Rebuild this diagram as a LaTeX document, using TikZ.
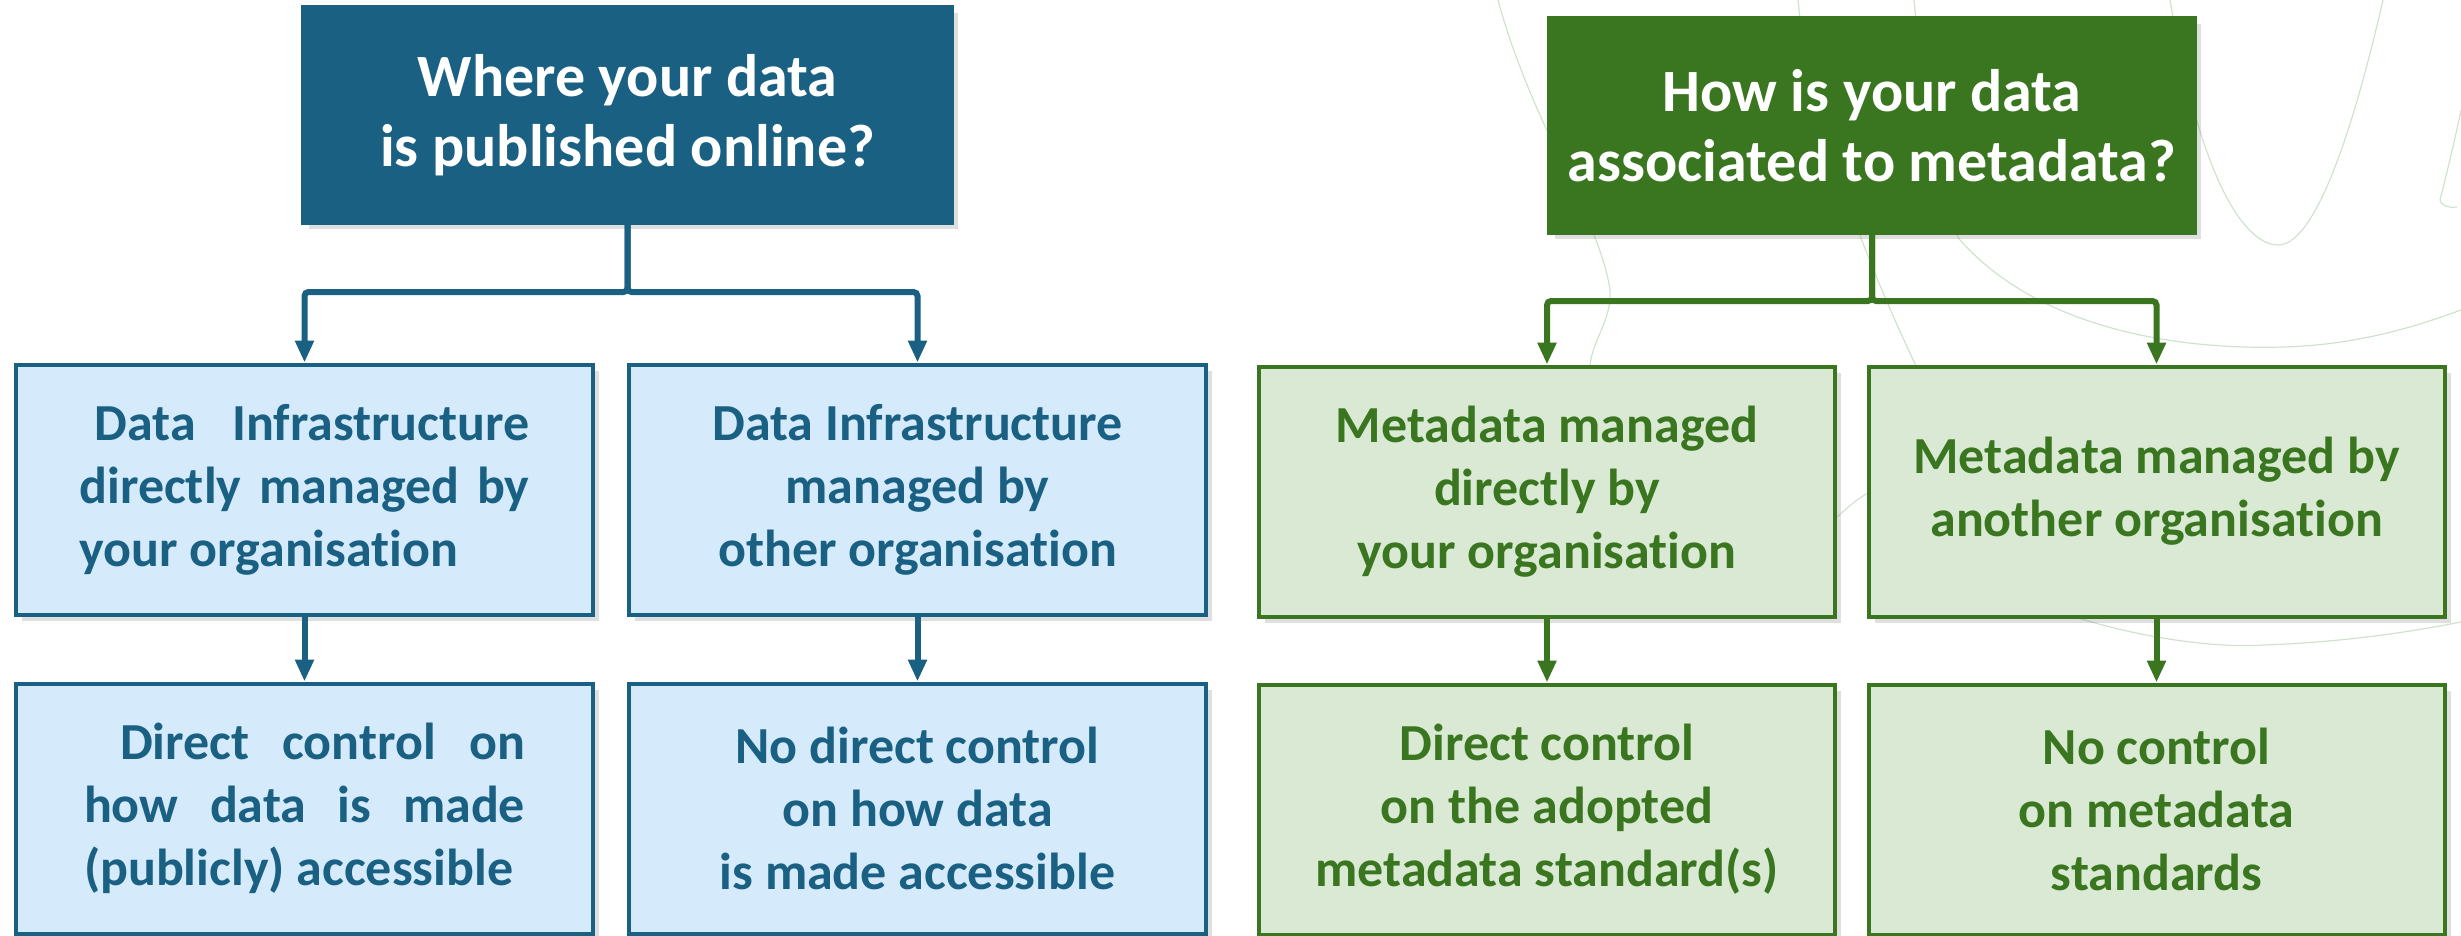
\documentclass[tikz,border=0pt]{standalone}
\usepackage{fontspec}
\setmainfont[Ligatures=NoCommon]{Carlito}
\usetikzlibrary{arrows.meta,shadows}
\definecolor{dblue}{RGB}{26,96,130}
\definecolor{lblue}{RGB}{213,234,251}
\definecolor{dgreen}{RGB}{58,118,32}
\definecolor{lgreen}{RGB}{218,233,212}
\definecolor{trace}{RGB}{208,226,206}
\newcommand{\toptext}{\bfseries\fontsize{30pt}{35pt}\selectfont}
\newcommand{\boxtext}{\bfseries\fontsize{26pt}{31.5pt}\selectfont}
\newcommand{\jline}[2]{\makebox[#1][s]{#2}}
\tikzset{>={Triangle[length=11pt, width=9pt]}}
\tikzset{
	box/.style={rectangle, line width=2pt, inner sep=0pt, align=center,
		drop shadow={shadow xshift=3pt, shadow yshift=-3pt, opacity=.25}},
	bluetop/.style={box, draw=dblue, fill=dblue, text=white, font=\toptext,
		minimum width=324.5pt, minimum height=108pt},
	greentop/.style={box, draw=dgreen, fill=dgreen, text=white, font=\toptext,
		minimum width=323pt, minimum height=107.5pt},
	bluebox/.style={box, draw=dblue, fill=lblue, text=dblue, font=\boxtext,
		minimum width=288.5pt, minimum height=125pt},
	greenbox/.style={box, draw=dgreen, fill=lgreen, text=dgreen, font=\boxtext,
		minimum width=288pt, minimum height=125pt},
	bconn/.style={dblue, line width=3pt, rounded corners=2pt, ->},
	gconn/.style={dgreen, line width=3pt, rounded corners=2pt, ->}
}

\begin{document}
\begin{tikzpicture}
	\useasboundingbox (0, 0) rectangle (1230.5pt, -468pt);
	\begin{scope}[x=0.5pt, y=-0.5pt, trace, line width=0.6pt]
		\draw (2170, 0) .. controls (2200, 180) and (2245, 245) .. (2278, 245) .. controls (2320, 245) and (2360, 100) .. (2383, 0);
		\draw (1914, 0) .. controls (1925, 120) and (1940, 210) .. (1960, 240) .. controls (2040, 330) and (2180, 350) .. (2283, 347) .. controls (2360, 345) and (2420, 325) .. (2461, 310);
		\draw (1798, 0) .. controls (1810, 130) and (1880, 290) .. (1916, 366);
		\draw (1498, 0) .. controls (1530, 120) and (1600, 220) .. (1610, 290) .. controls (1612, 320) and (1592, 340) .. (1590, 366);
		\draw (2078, 618) .. controls (2150, 640) and (2220, 648) .. (2264, 645) .. controls (2350, 642) and (2420, 630) .. (2461, 622);
		\draw (2461, 110) .. controls (2455, 140) and (2445, 180) .. (2440, 200) .. controls (2442, 207) and (2450, 208) .. (2457, 207);
		\draw (1868, 493) .. controls (1855, 500) and (1845, 510) .. (1837, 517);
	\end{scope}

	\node[bluetop] (q1) at (313.75pt, -57.5pt) {Where your data\\is published online?};
	\node[bluebox] (b1) at (152.25pt, -244.75pt) {\jline{225pt}{\hspace*{7.5pt}Data\ \ Infrastructure}\\\jline{225pt}{directly managed by}\\\makebox[225pt][l]{your organisation}};
	\node[bluebox] (b2) at (458.75pt, -244.75pt) {Data Infrastructure\\managed by\\other organisation};
	\node[bluebox] (b3) at (152.25pt, -404.25pt) {\jline{220.5pt}{\hspace*{18pt}Direct control on}\\\jline{220.5pt}{how data is made}\\\makebox[220.5pt][l]{(publicly) accessible}};
	\node[bluebox] (b4) at (458.75pt, -404.25pt) {No direct control\\on how data\\is made accessible};

	\node[greentop] (q2) at (936pt, -62.75pt) {How is your data\\associated to metadata?};
	\node[greenbox] (g1) at (773.5pt, -245.75pt) {Metadata managed\\directly by\\your organisation};
	\node[greenbox] (g2) at (1078.25pt, -245.75pt) {Metadata managed by\\another organisation};
	\node[greenbox] (g3) at (773.5pt, -404.75pt) {Direct control\\on the adopted\\metadata standard(s)};
	\node[greenbox] (g4) at (1078.25pt, -404.75pt) {No control\\on metadata\\standards};

	\draw[bconn] (q1.south) -- ++(0, -33.5pt) -| (b1.north);
	\draw[bconn] (q1.south) -- ++(0, -33.5pt) -| (b2.north);
	\draw[bconn] (b1.south) -- (b3.north);
	\draw[bconn] (b2.south) -- (b4.north);

	\draw[gconn] (q2.south) -- ++(0, -33pt) -| (g1.north);
	\draw[gconn] (q2.south) -- ++(0, -33pt) -| (g2.north);
	\draw[gconn] (g1.south) -- (g3.north);
	\draw[gconn] (g2.south) -- (g4.north);
\end{tikzpicture}
\end{document}
